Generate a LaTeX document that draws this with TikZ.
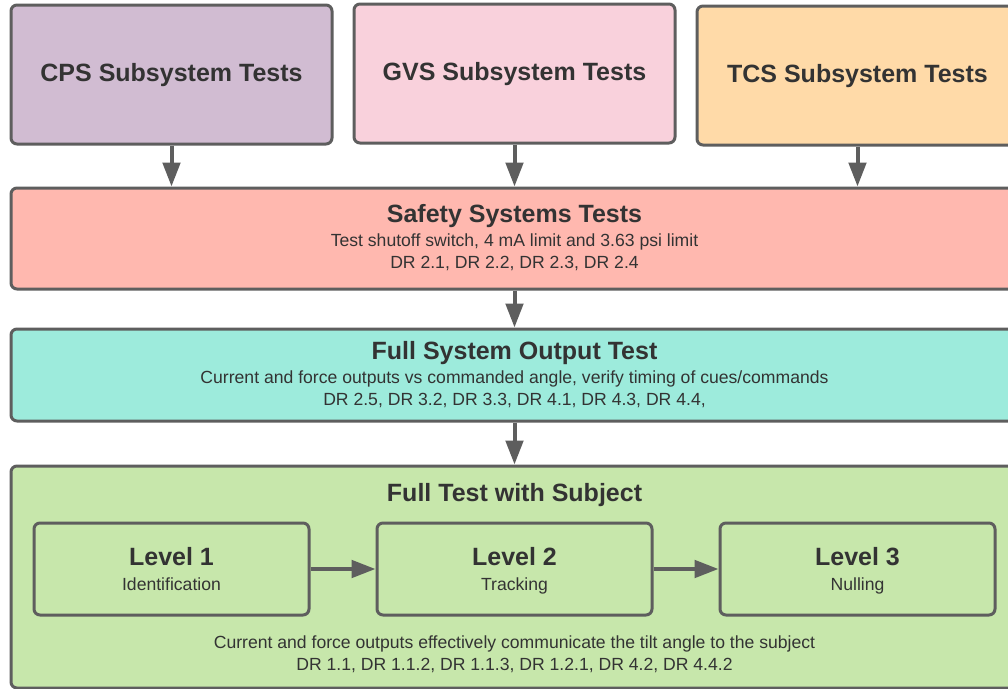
\documentclass[tikz,border=0pt]{standalone}
\usepackage{fontspec}
\setmainfont{Liberation Sans}
\usetikzlibrary{arrows.meta,fit}
\definecolor{edge}{HTML}{5E5E5E}
\definecolor{ink}{HTML}{333333}
\definecolor{cpsfill}{HTML}{D1BCD2}
\definecolor{gvsfill}{HTML}{F9D1DC}
\definecolor{tcsfill}{HTML}{FFDAA8}
\definecolor{safefill}{HTML}{FFB8AF}
\definecolor{outfill}{HTML}{9DEBDC}
\definecolor{subjfill}{HTML}{C7E7AB}
\begin{document}
\begin{tikzpicture}[x=0.75pt,y=-0.75pt,
  box/.style={draw=edge, line width=2.25pt, rounded corners=4.5pt, inner sep=0pt},
  head/.style={font=\fontsize{18.75}{22}\selectfont\bfseries, text=ink, inner sep=0pt, anchor=base},
  sub/.style={font=\fontsize{13.2}{16}\selectfont, text=ink, inner sep=0pt, anchor=base},
  arr/.style={draw=edge, line width=3pt, -{Triangle[length=18pt,width=13pt]}}]
\fill[white] (0,0) rectangle (1008,689);
\clip (0,0) rectangle (1008,689);

% subsystem test boxes
\node[box, fill=cpsfill, fit={(11,5)(332,144)}] (cps) {};
\node[head] (cpsT) at (171.5,81) {CPS Subsystem Tests};
\node[box, fill=gvsfill, fit={(354,4)(675,143)}] (gvs) {};
\node[head] (gvsT) at (514.5,80.5) {GVS Subsystem Tests};
\node[box, fill=tcsfill, fit={(697,6)(1018,145)}] (tcs) {};
\node[head] (tcsT) at (857.5,82) {TCS Subsystem Tests};

% safety systems
\node[box, fill=safefill, fit={(11,188)(1018,289)}] (safety) {};
\node[head] (safetyT) at (514.5,222.5) {Safety Systems Tests};
\node[sub] (safetyA) at (514.5,246.5) {Test shutoff switch, 4 mA limit and 3.63 psi limit};
\node[sub] (safetyB) at (514.5,268) {DR 2.1, DR 2.2, DR 2.3, DR 2.4};

% full system output
\node[box, fill=outfill, fit={(11,329)(1018,421)}] (fso) {};
\node[head] (fsoT) at (514.5,359) {Full System Output Test};
\node[sub] (fsoA) at (514.5,383) {Current and force outputs vs commanded angle, verify timing of cues/commands};
\node[sub] (fsoB) at (514.5,405) {DR 2.5, DR 3.2, DR 3.3, DR 4.1, DR 4.3, DR 4.4,};

% full test with subject
\node[box, fill=subjfill, fit={(11,466)(1018,688)}] (fts) {};
\node[head] (ftsT) at (514.5,501.5) {Full Test with Subject};
\node[sub] (ftsA) at (514.5,648) {Current and force outputs effectively communicate the tilt angle to the subject};
\node[sub] (ftsB) at (514.5,670) {DR 1.1, DR 1.1.2, DR 1.1.3, DR 1.2.1, DR 4.2, DR 4.4.2};

% levels
\node[box, fit={(34,523)(309,615)}] (l1) {};
\node[head] (l1T) at (171.5,565.5) {Level 1};
\node[sub] (l1S) at (171.5,590.5) {Identification};
\node[box, fit={(377,523)(652,615)}] (l2) {};
\node[head] (l2T) at (514.5,565.5) {Level 2};
\node[sub] (l2S) at (514.5,590.5) {Tracking};
\node[box, fit={(720,523)(995,615)}] (l3) {};
\node[head] (l3T) at (857.5,565.5) {Level 3};
\node[sub] (l3S) at (857.5,590.5) {Nulling};

% connectors
\draw[arr] (cps.south) -- (cps.south |- safety.north);
\draw[arr] (gvs.south) -- (gvs.south |- safety.north);
\draw[arr] (tcs.south) -- (tcs.south |- safety.north);
\draw[arr] (safety.south) -- (fso.north);
\draw[arr] (fso.south) -- (fts.north);
\draw[arr] (l1.east) -- (l2.west);
\draw[arr] (l2.east) -- (l3.west);
\end{tikzpicture}
\end{document}
